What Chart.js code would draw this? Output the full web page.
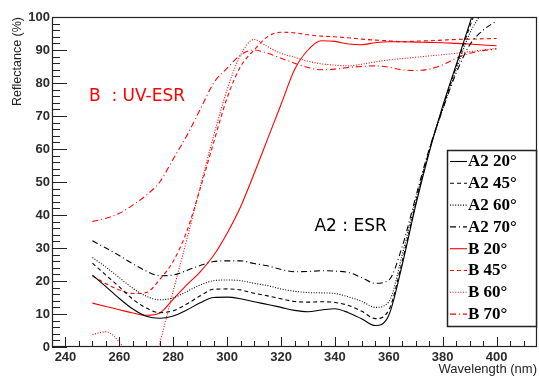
<!DOCTYPE html>
<html lang="en">
<head>
    <meta charset="UTF-8">
    <title>Reflectance vs Wavelength</title>
    <style>
        html, body { margin: 0; padding: 0; background: #fff; }
        #wrap { width: 539px; height: 376px; }
    </style>
    <script src="https://cdn.jsdelivr.net/npm/chart.js@4.4.0/dist/chart.umd.min.js"></script>
</head>
<body>
    <div id="wrap"><canvas id="reflChart" width="539" height="376"></canvas></div>

    <script>
        // wavelength samples (nm)
        const wavelength = [250, 255, 260, 265, 270, 275, 280, 285, 290, 295, 300, 305, 310, 315, 320,
                            325, 330, 335, 340, 345, 350, 355, 360, 365, 370, 375, 380, 385, 390, 395, 400];

        // reflectance (%)
        const a2_20 = [21.8, 18.3, 14.7, 11.5, 9.3, 8.7, 9.4, 11.2, 13.4, 15.0, 15.1, 14.6, 13.7, 12.9, 12.0,
                       11.1, 10.7, 11.2, 11.6, 10.4, 8.5, 6.5, 9.6, 25.0, 43.0, 59.0, 73.0, 85.5, 98.0, 111, 124];
        const a2_45 = [25.4, 21.8, 18.2, 14.5, 11.8, 10.4, 11.0, 13.0, 15.5, 17.5, 17.6, 17.3, 16.3, 15.5, 14.6,
                       13.8, 13.6, 13.7, 13.5, 12.6, 10.8, 8.6, 11.2, 26.0, 43.5, 59.5, 72.5, 85.0, 97.0, 108, 120];
        const a2_60 = [27.1, 24.2, 21.0, 17.8, 15.4, 14.3, 14.9, 16.8, 18.8, 20.1, 20.3, 20.1, 19.3, 18.6, 17.6,
                       16.9, 16.5, 16.4, 16.2, 15.2, 13.8, 12.0, 13.7, 28.0, 44.5, 59.5, 72.0, 84.0, 95.0, 102, 110];
        const a2_70 = [32.2, 30.0, 27.7, 25.2, 23.0, 21.6, 21.8, 23.2, 24.7, 25.9, 26.1, 26.1, 25.3, 24.6, 23.5,
                       22.8, 22.9, 23.1, 23.0, 22.6, 21.0, 19.3, 20.3, 30.5, 45.5, 60.0, 72.0, 83.0, 91.5, 96.0, 98.8];
        const b_20  = [13.3, 12.3, 11.3, 10.3, 9.6, 10.3, 14.5, 18.8, 22.8, 27.8, 34.5, 42.5, 52.5, 63.0, 73.5,
                       84.0, 90.0, 92.8, 92.6, 91.8, 91.6, 92.2, 92.5, 92.5, 92.4, 92.3, 92.2, 92.0, 91.8, 91.5, 91.3];
        const b_45  = [21.5, 19.2, 17.3, 16.2, 16.5, 20.5, 26.0, 35.0, 48.0, 62.0, 75.5, 85.0, 90.0, 94.0, 95.4,
                       95.2, 94.6, 94.2, 94.0, 93.7, 93.3, 93.0, 92.8, 92.5, 92.7, 92.8, 93.0, 93.2, 93.3, 93.4, 93.5];
        const b_60  = [3.8, 4.6, 1.5, -5.0, -14.0, 1.2, 17.0, 32.5, 48.5, 64.0, 78.0, 88.5, 93.2, 91.0, 89.0,
                       87.8, 86.6, 85.8, 85.4, 85.2, 85.7, 86.4, 87.0, 87.4, 87.8, 88.2, 88.6, 89.0, 89.5, 90.0, 90.5];
        const b_70  = [38.0, 39.0, 40.5, 43.0, 46.0, 50.0, 57.0, 64.0, 72.0, 80.0, 84.5, 88.5, 90.0, 89.0, 87.5,
                       86.0, 84.7, 84.0, 84.2, 84.7, 85.0, 85.2, 84.8, 84.0, 83.8, 84.2, 85.5, 87.5, 89.0, 89.8, 90.3];

        const seriesLabels = ['A2 20°', 'A2 45°', 'A2 60°', 'A2 70°', 'B 20°', 'B 45°', 'B 60°', 'B 70°'];
        const xTicks = [240, 260, 280, 300, 320, 340, 360, 380, 400];
        const yTicks = [0, 10, 20, 30, 40, 50, 60, 70, 80, 90, 100];

        const SOLID = [];
        const DASH = [4, 3];
        const DOT = [1, 1.6];
        const DASHDOT = [6, 3, 1, 3];

        function series(label, values, color, dash) {
            return {
                label: label,
                data: wavelength.map((w, i) => ({x: w, y: values[i]})),
                borderColor: color,
                borderWidth: 1.1,
                borderDash: dash,
                pointRadius: 0,
                fill: false,
                tension: 0.4,
                cubicInterpolationMode: 'monotone'
            };
        }

        // ROOT style frame with inward ticks
        const frameTicks = {
            id: 'frameTicks',
            afterDatasetsDraw(chart) {
                const {ctx, chartArea: a, scales: {x, y}} = chart;
                ctx.save();
                ctx.strokeStyle = '#222';
                ctx.lineWidth = 1;
                ctx.beginPath();
                for (let v = 0; v <= 100; v += 2) {
                    const py = Math.round(y.getPixelForValue(v)) + 0.5;
                    const len = v % 10 === 0 ? 15 : 8;
                    ctx.moveTo(a.left, py);
                    ctx.lineTo(a.left + len, py);
                }
                for (let v = 240; v <= 410; v += 5) {
                    const px = Math.round(x.getPixelForValue(v)) + 0.5;
                    const len = v % 20 === 0 ? 10 : 6;
                    ctx.moveTo(px, a.bottom);
                    ctx.lineTo(px, a.bottom - len);
                }
                ctx.stroke();
                ctx.lineWidth = 1.2;
                ctx.strokeRect(a.left + 0.5, a.top + 0.5, a.right - a.left - 1, a.bottom - a.top - 1);

                // annotations
                ctx.font = '17px "DejaVu Sans"';
                ctx.textBaseline = 'middle';
                ctx.textAlign = 'left';
                ctx.fillStyle = '#ff0000';
                ctx.fillText('B  : UV-ESR', x.getPixelForValue(248.7), y.getPixelForValue(75.8));
                ctx.fillStyle = '#000';
                ctx.fillText('A2 : ESR', x.getPixelForValue(332.4), y.getPixelForValue(36.5));
                ctx.restore();
            }
        };

        const legendBox = {
            id: 'legendBox',
            afterDraw(chart) {
                const {ctx, chartArea: a} = chart;
                const w = 90, h = 177;
                const left = a.right - w, top = a.top + 133;
                ctx.save();
                ctx.fillStyle = '#fff';
                ctx.fillRect(left, top, w, h);
                ctx.strokeStyle = '#222';
                ctx.lineWidth = 1.5;
                ctx.strokeRect(left + 0.5, top + 0.5, w - 1, h - 1);
                ctx.font = 'bold 17px "Liberation Serif"';
                ctx.textBaseline = 'middle';
                ctx.textAlign = 'left';
                chart.data.datasets.forEach((ds, i) => {
                    const ry = top + 11 + i * 21.8;
                    ctx.strokeStyle = ds.borderColor;
                    ctx.lineWidth = 1.1;
                    ctx.setLineDash(ds.borderDash);
                    ctx.beginPath();
                    ctx.moveTo(left + 3, ry + 0.5);
                    ctx.lineTo(left + 20, ry + 0.5);
                    ctx.stroke();
                    ctx.setLineDash([]);
                    ctx.fillStyle = '#000';
                    ctx.fillText(seriesLabels[i], left + 21, ry + 1);
                });
                ctx.restore();
            }
        };

        const tickFont = {family: '"Liberation Sans", Arial', weight: 'bold', size: 13};

        new Chart(document.getElementById('reflChart').getContext('2d'), {
            type: 'line',
            data: {
                datasets: [
                    series(seriesLabels[0], a2_20, '#000', SOLID),
                    series(seriesLabels[1], a2_45, '#000', DASH),
                    series(seriesLabels[2], a2_60, '#000', DOT),
                    series(seriesLabels[3], a2_70, '#000', DASHDOT),
                    series(seriesLabels[4], b_20, '#ff0000', SOLID),
                    series(seriesLabels[5], b_45, '#ff0000', DASH),
                    series(seriesLabels[6], b_60, '#ff0000', DOT),
                    series(seriesLabels[7], b_70, '#ff0000', DASHDOT)
                ]
            },
            options: {
                responsive: false,
                animation: false,
                devicePixelRatio: 1,
                layout: {padding: {top: 17, right: 2, left: 0, bottom: 0}},
                scales: {
                    x: {
                        type: 'linear',
                        min: 235,
                        max: 415,
                        afterBuildTicks: s => { s.ticks = xTicks.map(v => ({value: v})); },
                        afterFit: s => { s.height = 29; },
                        grid: {display: false, drawTicks: false, tickLength: 0},
                        border: {display: false},
                        ticks: {autoSkip: false, maxRotation: 0, padding: 3, color: '#2b2b2b', font: tickFont},
                        title: {
                            display: true,
                            text: 'Wavelength (nm)',
                            align: 'end',
                            color: '#222',
                            font: {family: '"Liberation Sans", Arial', size: 13, lineHeight: 1},
                            padding: {top: 0, bottom: 0}
                        }
                    },
                    y: {
                        type: 'linear',
                        min: 0,
                        max: 100,
                        afterBuildTicks: s => { s.ticks = yTicks.map(v => ({value: v})); },
                        afterFit: s => { s.width = 52; },
                        grid: {display: false, drawTicks: false, tickLength: 0},
                        border: {display: false},
                        ticks: {padding: 2, color: '#2b2b2b', font: tickFont},
                        title: {
                            display: true,
                            text: 'Reflectance (%)',
                            align: 'end',
                            color: '#222',
                            font: {family: '"Liberation Sans", Arial', size: 12.5},
                            padding: {top: 10, bottom: 0}
                        }
                    }
                },
                plugins: {
                    legend: {display: false},
                    title: {display: false},
                    tooltip: {enabled: false}
                }
            },
            plugins: [frameTicks, legendBox]
        });
    </script>
</body>
</html>
